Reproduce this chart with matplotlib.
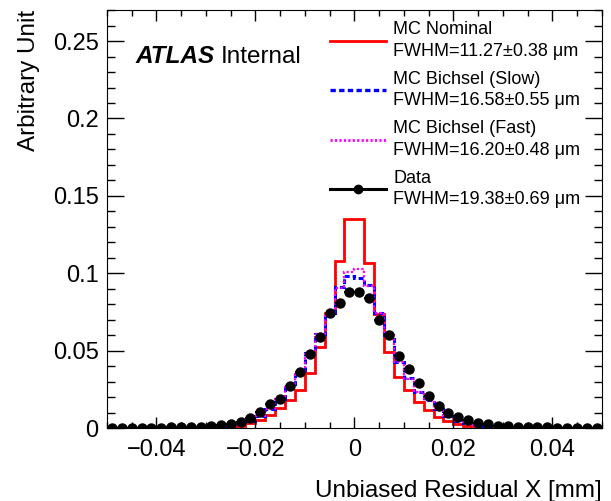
import numpy as np
import matplotlib
matplotlib.use("Agg")
import matplotlib.pyplot as plt
from matplotlib.ticker import MultipleLocator, FuncFormatter
from matplotlib.lines import Line2D

plt.rcParams['font.family'] = ['Liberation Sans', 'DejaVu Sans']

# ---- data ----
bin_edges = np.round(np.arange(-0.05, 0.0500001, 0.002), 4)

mc_nominal = [0.0000, 0.0000, 0.0000, 0.0000, 0.0001, 0.0001, 0.0001, 0.0002, 0.0002, 0.0003,
              0.0004, 0.0006, 0.0009, 0.0015, 0.0030, 0.0052, 0.0084, 0.0127, 0.0181, 0.0246,
              0.0354, 0.0526, 0.0742, 0.1080, 0.1352, 0.1352, 0.1068, 0.0736, 0.0494, 0.0332,
              0.0246, 0.0170, 0.0116, 0.0073, 0.0047, 0.0026, 0.0015, 0.0010, 0.0006, 0.0004,
              0.0003, 0.0002, 0.0002, 0.0001, 0.0001, 0.0001, 0.0000, 0.0000, 0.0000, 0.0000]

mc_bichsel_slow = [0.0000, 0.0000, 0.0001, 0.0001, 0.0001, 0.0002, 0.0002, 0.0003, 0.0004, 0.0006,
                   0.0008, 0.0011, 0.0017, 0.0025, 0.0045, 0.0080, 0.0125, 0.0190, 0.0272, 0.0365,
                   0.0483, 0.0608, 0.0742, 0.0914, 0.0985, 0.0972, 0.0925, 0.0740, 0.0602, 0.0429,
                   0.0321, 0.0235, 0.0181, 0.0121, 0.0078, 0.0047, 0.0032, 0.0022, 0.0014, 0.0009,
                   0.0006, 0.0004, 0.0003, 0.0002, 0.0002, 0.0001, 0.0001, 0.0001, 0.0000, 0.0000]

mc_bichsel_fast = [0.0000, 0.0000, 0.0001, 0.0001, 0.0001, 0.0002, 0.0002, 0.0003, 0.0004, 0.0006,
                   0.0008, 0.0011, 0.0016, 0.0025, 0.0044, 0.0078, 0.0124, 0.0188, 0.0270, 0.0362,
                   0.0480, 0.0606, 0.0745, 0.0903, 0.1010, 0.1025, 0.0915, 0.0742, 0.0598, 0.0426,
                   0.0318, 0.0233, 0.0179, 0.0120, 0.0077, 0.0046, 0.0031, 0.0021, 0.0014, 0.0009,
                   0.0006, 0.0004, 0.0003, 0.0002, 0.0002, 0.0001, 0.0001, 0.0001, 0.0000, 0.0000]

data_values = [0.0001, 0.0001, 0.0001, 0.0002, 0.0002, 0.0003, 0.0004, 0.0005, 0.0007, 0.0009,
               0.0013, 0.0018, 0.0027, 0.0041, 0.0062, 0.0101, 0.0152, 0.0189, 0.0270, 0.0361,
               0.0476, 0.0591, 0.0746, 0.0806, 0.0878, 0.0878, 0.0839, 0.0699, 0.0600, 0.0466,
               0.0380, 0.0294, 0.0209, 0.0145, 0.0095, 0.0071, 0.0050, 0.0035, 0.0025, 0.0014,
               0.0012, 0.0009, 0.0007, 0.0005, 0.0004, 0.0003, 0.0002, 0.0002, 0.0001, 0.0001]

labels = ["MC Nominal\nFWHM=11.27\u00b10.38 \u03bcm",
          "MC Bichsel (Slow)\nFWHM=16.58\u00b10.55 \u03bcm",
          "MC Bichsel (Fast)\nFWHM=16.20\u00b10.48 \u03bcm",
          "Data\nFWHM=19.38\u00b10.69 \u03bcm"]

xlabel = "Unbiased Residual X [mm]"
ylabel = "Arbitrary Unit"

# ---- figure ----
fig = plt.figure(figsize=(6.11, 5.01), dpi=100)
ax = fig.add_axes([0.175, 0.1457, 0.81, 0.834])

centers = 0.5 * (bin_edges[:-1] + bin_edges[1:])
half_width = 0.5 * np.diff(bin_edges)

ax.stairs(mc_nominal, bin_edges, color='#ff0000', lw=2.0, baseline=None)
ax.stairs(mc_bichsel_slow, bin_edges, color='#0000ff', lw=2.2,
          linestyle=(0, (1.6, 1.0)), baseline=None)
ax.stairs(mc_bichsel_fast, bin_edges, color='#ff00ff', lw=1.6,
          linestyle=(0, (1.0, 1.0)), baseline=None)
ax.errorbar(centers, data_values, xerr=half_width, fmt='o', color='black',
            ms=6.5, elinewidth=1.5, capsize=0)

lh1 = Line2D([], [], color='#ff0000', lw=2.0)
lh2 = Line2D([], [], color='#0000ff', lw=2.4, linestyle=(0, (1.6, 1.0)))
lh3 = Line2D([], [], color='#ff00ff', lw=2.0, linestyle=(0, (0.8, 0.8)))
lh4 = Line2D([], [], color='black', lw=2.2, marker='o', ms=6)

leg = ax.legend([lh1, lh2, lh3, lh4], labels, loc='upper left',
                bbox_to_anchor=(0.45, 0.973), frameon=False, fontsize=13,
                handlelength=3.1, handletextpad=0.42, labelspacing=0.6,
                borderpad=0, borderaxespad=0)
for txt in leg.get_texts():
    txt.set_linespacing(1.35)

ax.set_xlim(-0.05, 0.05)
ax.set_ylim(0, 0.27)

ax.xaxis.set_major_locator(MultipleLocator(0.02))
ax.xaxis.set_minor_locator(MultipleLocator(0.005))
ax.yaxis.set_major_locator(MultipleLocator(0.05))
ax.yaxis.set_minor_locator(MultipleLocator(0.01))

def fmt(v, pos):
    if abs(v) < 1e-9:
        return "0"
    s = ("%.2f" % v).rstrip('0')
    return s.replace('-', '\u2212')
ax.xaxis.set_major_formatter(FuncFormatter(fmt))
ax.yaxis.set_major_formatter(FuncFormatter(fmt))

ax.tick_params(axis='both', which='both', direction='in', top=True, right=True,
               labelsize=17, width=1.0)
ax.tick_params(axis='x', which='major', length=8, pad=8)
ax.tick_params(axis='x', which='minor', length=4.3)
ax.tick_params(axis='y', which='major', length=12, pad=6)
ax.tick_params(axis='y', which='minor', length=6)

ax.set_xlabel(xlabel, fontsize=17.5, ha='right')
ax.xaxis.set_label_coords(1.0, -0.125)
ax.set_ylabel(ylabel, fontsize=17.5, ha='right')
ax.yaxis.set_label_coords(-0.135, 1.0)

t = ax.text(0.058, 0.888, "ATLAS", transform=ax.transAxes, fontsize=17.5,
            fontweight='bold', fontstyle='italic', va='center', ha='left')
ax.annotate("Internal", xy=(1, 0.5), xycoords=t, xytext=(4, 0),
            textcoords='offset points', va='center', ha='left', fontsize=17.5)

fig.savefig("out.png", dpi=100)
